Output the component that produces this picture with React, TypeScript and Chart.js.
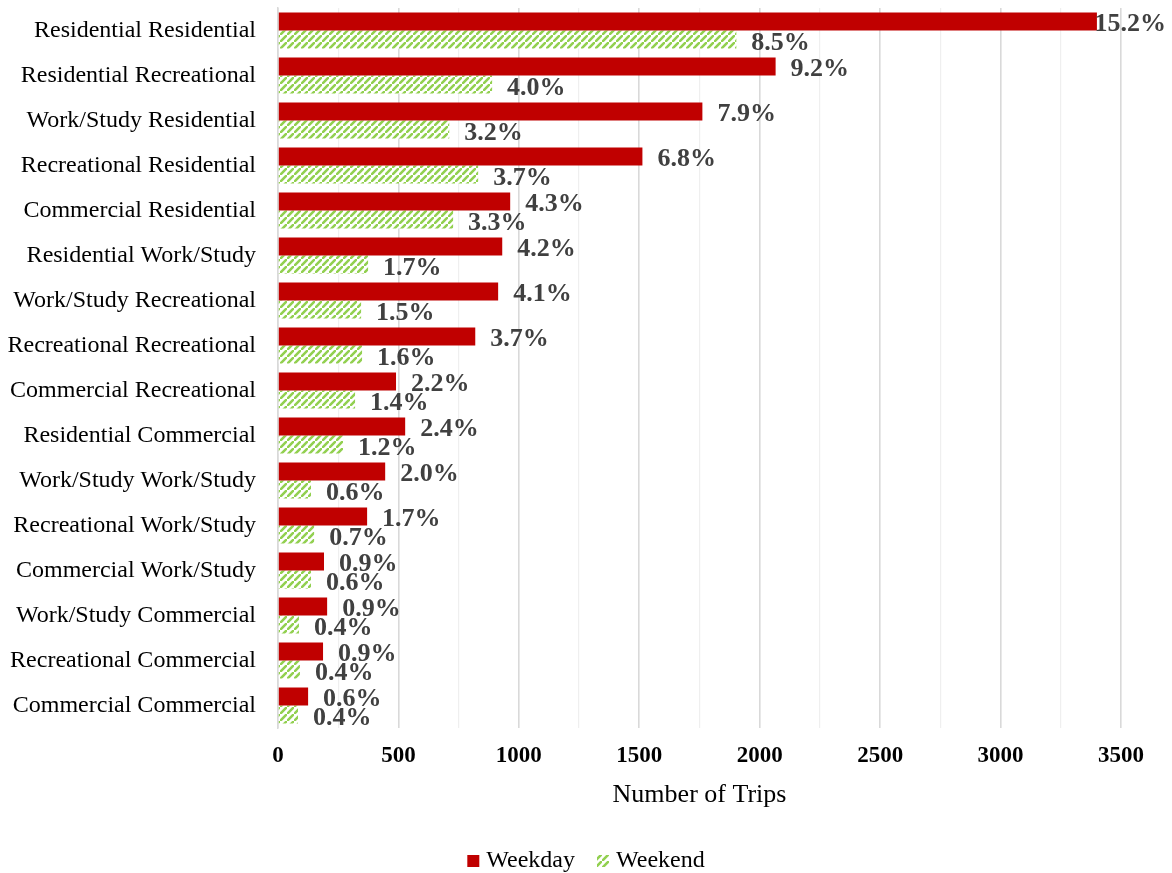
import React, { useEffect, useRef } from "react";
import { Chart, registerables } from "chart.js";

Chart.register(...registerables);

const categories = [
  "Residential Residential",
  "Residential Recreational",
  "Work/Study Residential",
  "Recreational Residential",
  "Commercial Residential",
  "Residential Work/Study",
  "Work/Study Recreational",
  "Recreational Recreational",
  "Commercial Recreational",
  "Residential Commercial",
  "Work/Study Work/Study",
  "Recreational Work/Study",
  "Commercial Work/Study",
  "Work/Study Commercial",
  "Recreational Commercial",
  "Commercial Commercial",
];

const weekdayTrips = [3400, 2066, 1762, 1513, 964, 931, 914, 819, 490, 528, 445, 370, 191, 204, 187, 125];
const weekendTrips = [1903, 889, 711, 831, 727, 374, 345, 349, 320, 270, 137, 150, 137, 87, 91, 83];

const weekdayPct = [15.2, 9.2, 7.9, 6.8, 4.3, 4.2, 4.1, 3.7, 2.2, 2.4, 2.0, 1.7, 0.9, 0.9, 0.9, 0.6];
const weekendPct = [8.5, 4.0, 3.2, 3.7, 3.3, 1.7, 1.5, 1.6, 1.4, 1.2, 0.6, 0.7, 0.6, 0.4, 0.4, 0.4];

const seriesNames = ["Weekday", "Weekend"];
const xTicksMax = 3500;
const xTickStep = 250;
const xAxisTitle = "Number of Trips";

const SERIF = '"Liberation Serif", "Times New Roman", serif';

function makeHatch(): CanvasPattern | string {
  const s = 7;
  const c = document.createElement("canvas");
  c.width = s;
  c.height = s;
  const g = c.getContext("2d");
  if (!g) return "#92d050";
  g.fillStyle = "#ffffff";
  g.fillRect(0, 0, s, s);
  g.strokeStyle = "#92d050";
  g.lineWidth = 2.6;
  g.beginPath();
  g.moveTo(-1, s + 1);
  g.lineTo(s + 1, -1);
  g.moveTo(-s - 1, 1);
  g.lineTo(1, -s - 1);
  g.moveTo(s - 1, 2 * s + 1);
  g.lineTo(2 * s + 1, s - 1);
  g.stroke();
  const p = g.createPattern(c, "repeat");
  return p || "#92d050";
}

export default function App() {
  const ref = useRef<HTMLCanvasElement | null>(null);

  useEffect(() => {
    if (!ref.current) return;
    const hatch = makeHatch();
    const pctArrays = [weekdayPct, weekendPct];

    const labelPlugin = {
      id: "barValueLabels",
      afterDatasetsDraw(chart: any) {
        const ctx = chart.ctx;
        ctx.save();
        ctx.font = `bold 26px ${SERIF}`;
        ctx.fillStyle = "#404040";
        ctx.textBaseline = "middle";
        ctx.textAlign = "left";
        chart.data.datasets.forEach((_ds: any, di: number) => {
          const meta = chart.getDatasetMeta(di);
          meta.data.forEach((bar: any, i: number) => {
            const text = pctArrays[di][i].toFixed(1) + "%";
            const w = ctx.measureText(text).width;
            let x = bar.x + 15;
            if (x + w > chart.width - 6) x = chart.width - 6 - w;
            ctx.fillText(text, x, bar.y + (di === 1 ? 4 : 3));
          });
        });
        ctx.restore();
      },
    };

    const legendPlugin = {
      id: "customLegend",
      afterDraw(chart: any) {
        const ctx = chart.ctx;
        ctx.save();
        ctx.font = `24px ${SERIF}`;
        ctx.textBaseline = "middle";
        ctx.textAlign = "left";
        const box = 12;
        const gap = 7;
        const spacing = 22;
        const items = chart.data.datasets.map((d: any) => ({
          label: d.label,
          fill: d.backgroundColor,
          w: ctx.measureText(d.label).width,
        }));
        const total =
          items.reduce((s: number, it: any) => s + box + gap + it.w, 0) +
          spacing * (items.length - 1);
        let x = (chart.width - total) / 2;
        const y = chart.height - 12;
        items.forEach((it: any) => {
          ctx.fillStyle = it.fill;
          ctx.fillRect(x, y - box / 2, box, box);
          ctx.fillStyle = "#000000";
          ctx.fillText(it.label, x + box + gap, y);
          x += box + gap + it.w + spacing;
        });
        ctx.restore();
      },
    };

    const chart = new Chart(ref.current, {
      type: "bar",
      data: {
        labels: categories,
        datasets: [
          {
            label: seriesNames[0],
            data: weekdayTrips,
            backgroundColor: "#c00000",
            borderWidth: 0,
            categoryPercentage: 0.8,
            barPercentage: 1.0,
          },
          {
            label: seriesNames[1],
            data: weekendTrips,
            backgroundColor: hatch as any,
            borderWidth: 0,
            categoryPercentage: 0.8,
            barPercentage: 1.0,
          },
        ],
      },
      options: {
        indexAxis: "y",
        responsive: false,
        animation: false,
        layout: { padding: { left: 0, right: 51, top: 8, bottom: 40 } },
        plugins: {
          legend: { display: false },
          tooltip: { enabled: false },
        },
        scales: {
          x: {
            min: 0,
            max: xTicksMax,
            border: { display: false },
            grid: {
              drawTicks: false,
              color: (c: any) => (c.tick && c.tick.value % 500 === 0 ? "#d9d9d9" : "#efefef"),
              lineWidth: (c: any) => (c.tick && c.tick.value % 500 === 0 ? 1.6 : 1.2),
            },
            ticks: {
              stepSize: xTickStep,
              autoSkip: false,
              maxRotation: 0,
              padding: 14,
              color: "#000000",
              font: { family: SERIF, size: 23, weight: "bold" },
              callback: (v: any) => (Number(v) % 500 === 0 ? String(v) : ""),
            },
            title: {
              display: true,
              text: xAxisTitle,
              color: "#000000",
              font: { family: SERIF, size: 26 },
              padding: { top: 0, bottom: 22 },
            },
            afterFit: (scale: any) => {
              scale.height = 105;
              scale.paddingLeft = 0;
              scale.paddingRight = 0;
            },
          },
          y: {
            grid: { display: false, drawTicks: false },
            border: { display: true, color: "#d9d9d9", width: 1.5 },
            ticks: {
              padding: 22,
              color: "#000000",
              font: { family: SERIF, size: 24 },
              autoSkip: false,
            },
            afterFit: (scale: any) => {
              scale.width = 278;
              scale.paddingTop = 0;
              scale.paddingBottom = 0;
            },
          },
        },
      } as any,
      plugins: [labelPlugin, legendPlugin],
    });
    return () => chart.destroy();
  }, []);

  return (
    <div style={{ position: "absolute", left: 0, top: 0, width: 1172, height: 873, background: "#ffffff" }}>
      <canvas ref={ref} width={1172} height={873} style={{ width: 1172, height: 873, display: "block" }} />
    </div>
  );
}
